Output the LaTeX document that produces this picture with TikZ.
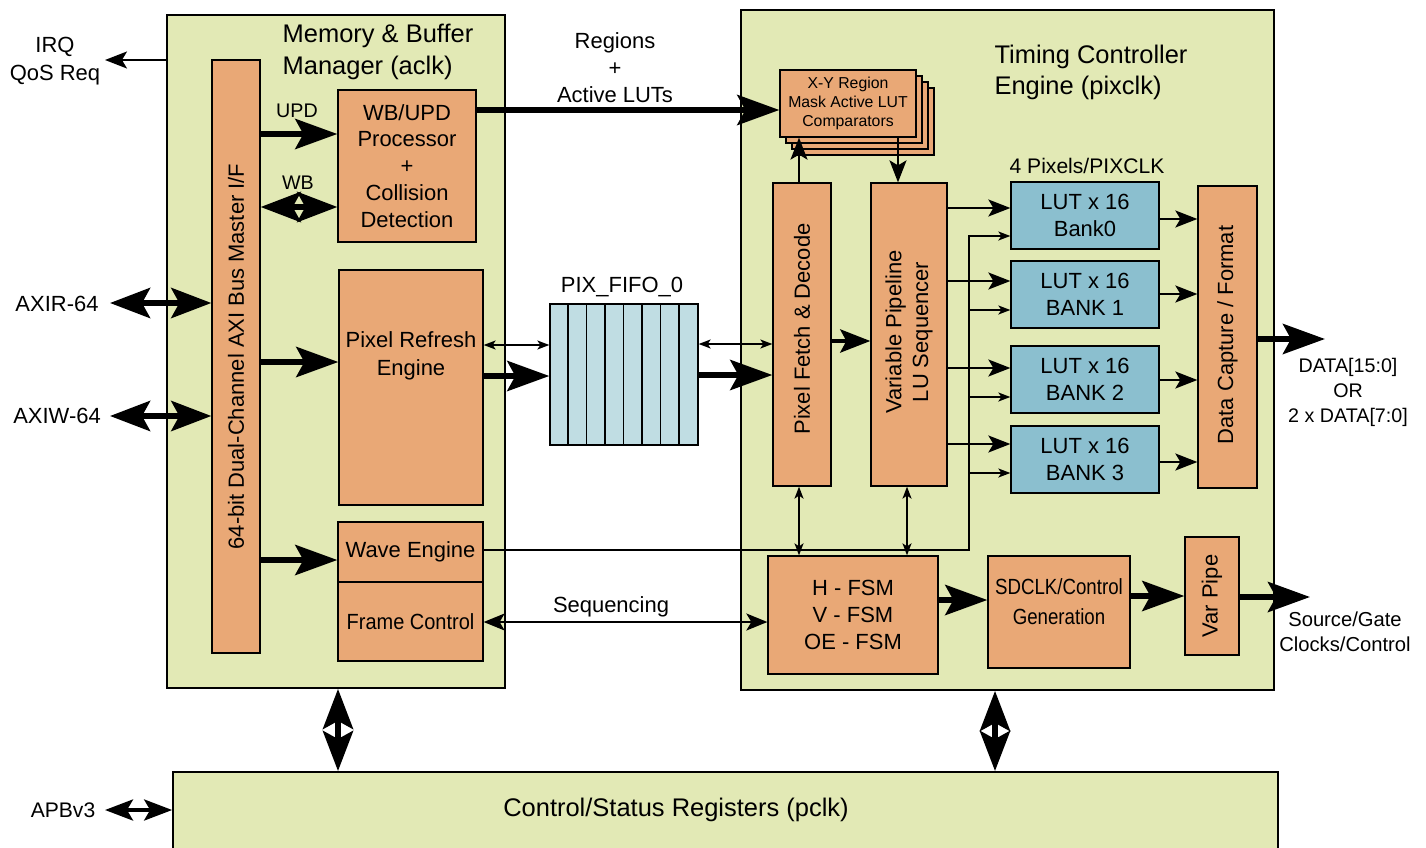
\documentclass[tikz,border=0pt]{standalone}
\usepackage{fontspec}
\usepackage{graphicx}
\setmainfont{Liberation Sans}
\usetikzlibrary{arrows.meta}

\newcommand{\fbig}{\fontsize{14.5}{18.5}\selectfont}
\newcommand{\fmid}{\fontsize{12.5}{15.3}\selectfont}
\newcommand{\flab}{\fontsize{11.2}{14.2}\selectfont}
\newcommand{\fsmall}{\fontsize{9}{11}\selectfont}

\begin{document}
\begin{tikzpicture}[x=0.02cm, y=-0.02cm,
    clkdomain/.style={rectangle, draw=black, fill=domaincolor, line width=1.1pt, inner sep=0pt},
    block/.style={rectangle, draw=black, fill=blockcolor, line width=0.75pt,
        inner sep=1pt, align=center, font=\fmid},
    lutblock/.style={block, fill=lutcolor, minimum width=2.96cm, minimum height=1.34cm},
    lbl/.style={align=center, font=\fmid, inner sep=0pt},
    bus/.style={line width=3.4pt, -{Stealth[length=0.84cm, width=0.6cm, inset=0.16cm]}},
    shortbus/.style={line width=2.6pt, -{Stealth[length=0.6cm, width=0.46cm, inset=0.12cm]}},
    bibus/.style={line width=3.4pt, {Stealth[length=0.8cm, width=0.6cm, inset=0.16cm]}-{Stealth[length=0.8cm, width=0.6cm, inset=0.16cm]}},
    biapb/.style={line width=2.2pt, {Stealth[length=0.56cm, width=0.42cm, inset=0.12cm]}-{Stealth[length=0.56cm, width=0.42cm, inset=0.12cm]}},
    sig/.style={line width=1.1pt, -{Stealth[length=0.44cm, width=0.34cm, inset=0.1cm]}},
    bisig/.style={line width=1.1pt, {Stealth[length=0.42cm, width=0.34cm, inset=0.1cm]}-{Stealth[length=0.42cm, width=0.34cm, inset=0.1cm]}},
    wire/.style={line width=0.85pt, -{Stealth[length=0.24cm, width=0.18cm, inset=0.06cm]}},
    biwire/.style={line width=0.85pt, {Stealth[length=0.24cm, width=0.18cm, inset=0.06cm]}-{Stealth[length=0.24cm, width=0.18cm, inset=0.06cm]}},
]
\definecolor{domaincolor}{RGB}{226,233,181}
\definecolor{blockcolor}{RGB}{233,168,118}
\definecolor{lutcolor}{RGB}{139,191,207}
\definecolor{fifocolor}{RGB}{192,221,227}
\useasboundingbox (0,0) rectangle (1426,848);
  % Memory & Buffer Manager
  \node[clkdomain, minimum width=6.76cm, minimum height=13.46cm] (mem) at (336,351.5) {};
  \node[lbl, font=\fbig, align=left] (mem_title) at (378,52) {Memory \& Buffer\\Manager (aclk)};
  \node[block, minimum width=0.96cm, minimum height=11.86cm] (busif) at (236,356.5) {};
  \node[lbl, rotate=90] (busif_txt) at (busif) {64-bit Dual-Channel AXI Bus Master I/F};
  \node[block, minimum width=2.76cm, minimum height=3.04cm] (wbupd) at (407,166) {WB/UPD\\Processor\\+\\Collision\\Detection};
  \node[block, minimum width=2.88cm, minimum height=4.7cm] (pre) at (411,387.5) {};
  \node[lbl, font=\fontsize{12.5}{16}\selectfont] (pre_txt) at (411,356) {Pixel Refresh\\Engine};
  \node[block, minimum width=2.9cm, minimum height=1.2cm] (wave) at (410.5,552) {Wave Engine};
  \node[block, minimum width=2.9cm, minimum height=1.58cm] (fctl) at (410.5,621.5) {\scalebox{0.91}[1]{Frame Control}};
  % Timing Controller Engine
  \node[clkdomain, minimum width=10.66cm, minimum height=13.6cm] (tce) at (1007.5,350) {};
  \node[lbl, font=\fontsize{14.5}{17.6}\selectfont, align=left] (tce_title) at (1091,72.5) {Timing Controller\\Engine (pixclk)};
  \foreach \d in {18,12,6}
    \node[block, minimum width=2.72cm, minimum height=1.34cm] (xy_\d) at (848+\d,103.5+\d) {};
  \node[block, font=\fsmall, minimum width=2.72cm, minimum height=1.34cm] (xy) at (848,103.5) {X-Y Region\\Mask Active LUT\\Comparators};
  \node[block, minimum width=1.16cm, minimum height=6.06cm] (pfd) at (802,334.5) {};
  \node[lbl, rotate=90] (pfd_txt) at (802,329) {Pixel Fetch \& Decode};
  \node[block, minimum width=1.52cm, minimum height=6.06cm] (vps) at (909,334.5) {};
  \node[lbl, rotate=90] (vps_txt) at (909,332) {Variable Pipeline\\LU Sequencer};
  \node[lbl, font=\fontsize{12}{14}\selectfont] (pix_lbl) at (1087,166) {4 Pixels/PIXCLK};
  \foreach \k/\y/\bank in {0/215.5/Bank0, 1/294.5/BANK 1, 2/379.5/BANK 2, 3/459.5/BANK 3}
    \node[lutblock] (lut\k) at (1085,\y) {LUT x 16\\\bank};
  \node[block, minimum width=1.18cm, minimum height=6.04cm] (dcf) at (1227.5,337) {};
  \node[lbl, rotate=90] (dcf_txt) at (1227.5,335) {Data Capture / Format};
  \node[block, minimum width=3.4cm, minimum height=2.36cm] (fsm) at (853,615) {H - FSM\\V - FSM\\OE - FSM};
  \node[block, minimum width=2.84cm, minimum height=2.24cm] (sdclk) at (1059,612) {};
  \node[lbl, font=\fontsize{12.5}{17}\selectfont] (sdclk_txt) at (1059,602) {\scalebox{0.85}[1]{SDCLK/Control}\\\scalebox{0.85}[1]{Generation}};
  \node[block, minimum width=1.08cm, minimum height=2.36cm] (varpipe) at (1212,596) {};
  \node[lbl, rotate=90] (varpipe_txt) at (varpipe) {Var Pipe};
  % PIX_FIFO_0
  \node[block, fill=fifocolor, minimum width=2.96cm, minimum height=2.82cm] (fifo) at (624,374.5) {};
  \foreach \i in {1,...,7}
    \draw[line width=0.9pt] ([xshift=\i*0.37cm]fifo.north west) -- ([xshift=\i*0.37cm]fifo.south west);
  \node[lbl] (fifo_lbl) at (622,287) {PIX\_FIFO\_0};
  % Control/Status Registers
  \node[clkdomain, minimum width=22.1cm, minimum height=1.6cm] (csr) at (725.5,812) {};
  \node[lbl, font=\fontsize{14.5}{17}\selectfont] (csr_txt) at (676,810) {Control/Status Registers (pclk)};
  % outside labels
  \node[lbl, font=\fontsize{12.5}{16}\selectfont] (irq_lbl) at (55,61) {IRQ\\QoS Req};
  \node[lbl] (axir_lbl) at (57,304) {AXIR-64};
  \node[lbl] (axiw_lbl) at (57,416) {AXIW-64};
  \node[lbl, font=\fontsize{12}{14}\selectfont] (apb_lbl) at (63,810) {APBv3};
  \node[lbl, font=\fontsize{12.5}{15.3}\selectfont] (regions_lbl) at (615,68) {Regions\\+\\Active LUTs};
  \node[lbl, font=\flab] (upd_lbl) at (297,111) {UPD};
  \node[lbl, font=\flab] (wb_lbl) at (298,183) {WB};
  \node[lbl] (seq_lbl) at (611,607) {Sequencing};
  \node[lbl, font=\flab] (data_lbl) at (1348,392) {DATA[15:0]\\OR\\2 x DATA[7:0]};
  \node[lbl, font=\fontsize{11.5}{14.2}\selectfont] (src_lbl) at (1345,632) {Source/Gate\\Clocks/Control};
  \coordinate (irq_end) at (105,60);
  \coordinate (axir_end) at (110,303);
  \coordinate (axiw_end) at (110,416);
  \coordinate (apb_end) at (105,810);
  \coordinate (data_end) at (1325,339);
  \coordinate (src_end) at (1310,597);
  \coordinate (lutbus) at (969,550);
  % connectors
  \draw[sig] (mem.west |- irq_end) -- (irq_end);
  \draw[bibus] (axir_end) -- (busif.west |- axir_end);
  \draw[bibus] (axiw_end) -- (busif.west |- axiw_end);
  \draw[bus] (busif.east |- 0,134) -- (wbupd.west |- 0,134);
  \draw[bibus] (busif.east |- 0,207) -- (wbupd.west |- 0,207);
  \draw[bus] (busif.east |- 0,362) -- (pre.west |- 0,362);
  \draw[bus] (busif.east |- 0,560) -- (wave.west |- 0,560);
  \draw[bus] (wbupd.east |- 0,110) -- (xy.west |- 0,110);
  \draw[biwire] (pre.east |- 0,345) -- (fifo.west |- 0,345);
  \draw[bus] (pre.east |- 0,376) -- (fifo.west |- 0,376);
  \draw[biwire] (fifo.east |- 0,344) -- (pfd.west |- 0,344);
  \draw[bus] (fifo.east |- 0,375) -- (pfd.west |- 0,375);
  \draw[sig] (pfd.north -| 799,0) -- (xy.south -| 799,0);
  \draw[sig] (xy.south -| 898,0) -- (vps.north -| 898,0);
  \draw[shortbus] (pfd.east |- 0,341) -- (vps.west |- 0,341);
  \foreach \k/\y in {0/208, 1/281, 2/368, 3/444}
    \draw[sig] (vps.east |- 0,\y) -- (lut\k.west |- 0,\y);
  \draw[wire] (wave.east |- lutbus) -- (lutbus) |- (lut0.west |- 0,236);
  \foreach \k/\y in {1/310, 2/397, 3/473}
    \draw[wire] (lutbus |- 0,\y) -- (lut\k.west |- 0,\y);
  \foreach \k/\y in {0/219, 1/294, 2/380, 3/462}
    \draw[sig] (lut\k.east |- 0,\y) -- (dcf.west |- 0,\y);
  \draw[bus] (dcf.east |- data_end) -- (data_end);
  \draw[biwire] (pfd.south -| 799,0) -- (fsm.north -| 799,0);
  \draw[biwire] (vps.south -| 907,0) -- (fsm.north -| 907,0);
  \draw[bisig] (fctl.east |- 0,622) -- (fsm.west |- 0,622);
  \draw[bus] (fsm.east |- 0,600) -- (sdclk.west |- 0,600);
  \draw[bus] (sdclk.east |- 0,596) -- (varpipe.west |- 0,596);
  \draw[bus] (varpipe.east |- src_end) -- (src_end);
  \draw[bibus] (mem.south -| 338,0) -- (csr.north -| 338,0);
  \draw[bibus] (tce.south -| 995,0) -- (csr.north -| 995,0);
  \draw[biapb] (apb_end) -- (csr.west |- apb_end);
\end{tikzpicture}
\end{document}
